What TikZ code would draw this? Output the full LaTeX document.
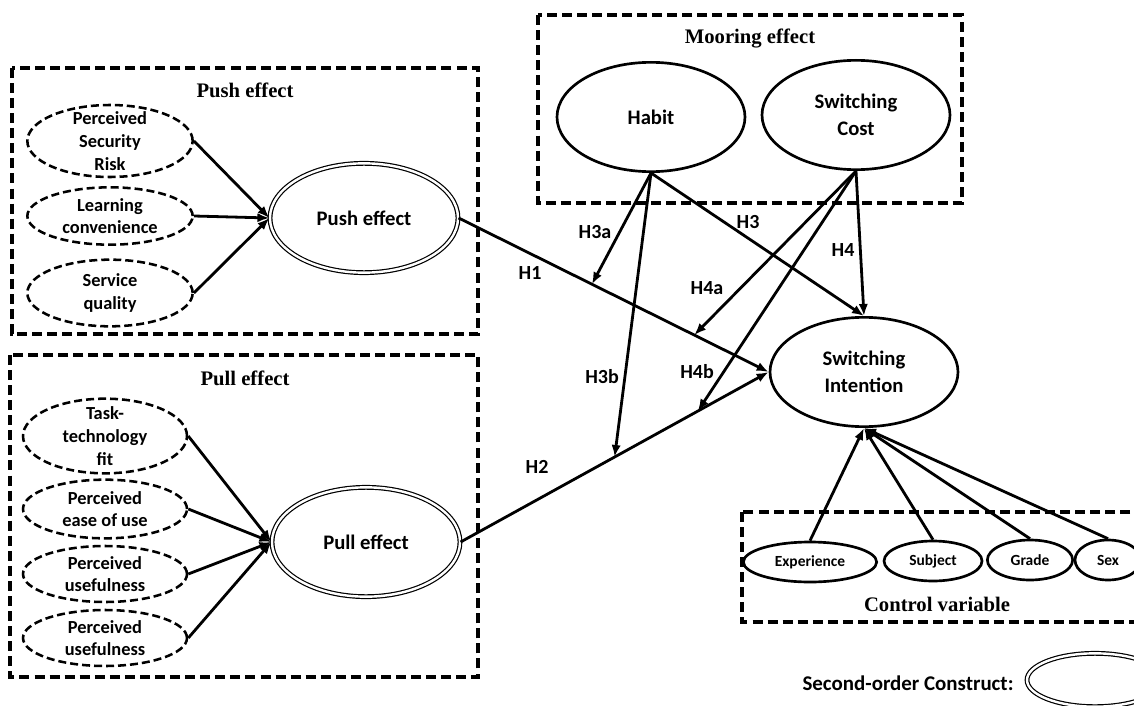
\documentclass[tikz,border=0pt]{standalone}
\usepackage{fontspec}
\setmainfont{Liberation Serif}
\newfontfamily\calibrifont{Carlito}
\usetikzlibrary{shapes.geometric, arrows.meta}

\begin{document}
\begin{tikzpicture}[x=0.75pt, y=-0.75pt, >={Latex[length=9pt,width=7pt]}, line width=2.1pt,
    dashbox/.style={draw, dash pattern=on 7.5pt off 3.8pt, line width=2.4pt},
    boxtitle/.style={font=\bfseries\fontsize{15.5}{18}\selectfont},
    factor/.style={ellipse, draw, dash pattern=on 6pt off 3pt, line width=1.9pt, inner xsep=0pt, inner ysep=-6pt, align=center,
        font=\calibrifont\bfseries\fontsize{13.8}{17}\selectfont},
    latent/.style={ellipse, draw, line width=2pt, inner sep=0pt, align=center, minimum width=141pt, minimum height=82pt,
        font=\calibrifont\bfseries\fontsize{15.5}{20}\selectfont},
    second/.style={latent, double, double distance=1.8pt, line width=0.9pt},
    control/.style={ellipse, draw, line width=2pt, inner sep=0pt, minimum height=30pt,
        font=\calibrifont\bfseries\fontsize{11.6}{14}\selectfont},
    hlabel/.style={font=\calibrifont\bfseries\fontsize{15}{18}\selectfont}]
    \useasboundingbox (0,0) rectangle (1134,706);
    \clip (0,0) rectangle (1134,706);

    % boxes
    \draw[dashbox] (12,68) rectangle (478,334);
    \draw[dashbox] (10,355) rectangle (478,677);
    \draw[dashbox] (538,15) rectangle (962,203);
    \draw[dashbox] (742,512) rectangle (1150,622);
    \node[boxtitle] (pushtitle) at (245,90) {Push effect};
    \node[boxtitle] (pulltitle) at (245,378) {Pull effect};
    \node[boxtitle] (mooringtitle) at (750,39) {Mooring effect};
    \node[boxtitle] (controltitle) at (937,604) {Control variable};

    % push side
    \node[factor, minimum width=124pt, minimum height=54pt] (psr) at (110,141) {Perceived\\Security\\Risk};
    \node[factor, minimum width=124pt, minimum height=43pt] (lc) at (110,216) {Learning\\convenience};
    \node[factor, minimum width=124pt, minimum height=50pt] (sq) at (110,293) {Service\\quality};
    \node[second] (push) at (364,218) {Push effect};

    % pull side
    \node[factor, minimum width=123pt, minimum height=56pt] (ttf) at (105,436) {Task-\\technology\\fit};
    \node[factor, minimum width=123pt, minimum height=44pt] (peou) at (105,509) {Perceived\\ease of use};
    \node[factor, minimum width=123pt, minimum height=42pt] (pu1) at (105,574) {Perceived\\usefulness};
    \node[factor, minimum width=123pt, minimum height=42pt] (pu2) at (105,638) {Perceived\\usefulness};
    \node[second] (pull) at (366,542) {Pull effect};

    % mooring and outcome
    \node[latent] (habit) at (651,117) {Habit};
    \node[latent] (cost) at (856,115) {Switching\\Cost};
    \node[latent] (si) at (864,372) {Switching\\Intention};

    % controls
    \node[control, minimum width=100pt] (exp) at (810,562) {Experience};
    \node[control, minimum width=73.5pt] (subj) at (933,561) {Subject};
    \node[control, minimum width=64pt] (grade) at (1030,560) {Grade};
    \node[control, minimum width=49.5pt] (sex) at (1108,560) {Sex};

    % legend
    \node[font=\calibrifont\bfseries\fontsize{15.7}{18}\selectfont] (legend) at (908,683) {Second-order Construct:};
    \node[second, minimum width=102pt, minimum height=40pt] (legendshape) at (1095,680) {};

    % indicators
    \foreach \f in {psr, lc, sq}
        \draw[->] (\f.east) -- (push.west);
    \foreach \f in {ttf, peou, pu1, pu2}
        \draw[->] (\f.east) -- (pull.west);

    % hypotheses
    \draw[->] (push.east) -- (si.west) coordinate[pos=0.43] (h3a) coordinate[pos=0.76] (h4a);
    \draw[->] (pull.east) -- (si.west) coordinate[pos=0.5] (h3b) coordinate[pos=0.77] (h4b);
    \draw[->] (habit.south) -- (si.north);
    \draw[->] (cost.south) -- (si.north);
    \draw[->] (habit.south) -- (h3a);
    \draw[->] (habit.south) -- (h3b);
    \draw[->] (cost.south) -- (h4a);
    \draw[->] (cost.south) -- (h4b);
    \foreach \c in {exp, subj, grade, sex}
        \draw[->] (\c.north) -- (si.south);

    \node[hlabel] (lh1) at (530,273) {H1};
    \node[hlabel] (lh2) at (537,467) {H2};
    \node[hlabel] (lh3) at (748,222) {H3};
    \node[hlabel] (lh4) at (843,250) {H4};
    \node[hlabel] (lh3a) at (595,232) {H3a};
    \node[hlabel] (lh3b) at (602,377) {H3b};
    \node[hlabel] (lh4a) at (707,288) {H4a};
    \node[hlabel] (lh4b) at (697,372) {H4b};
\end{tikzpicture}
\end{document}
